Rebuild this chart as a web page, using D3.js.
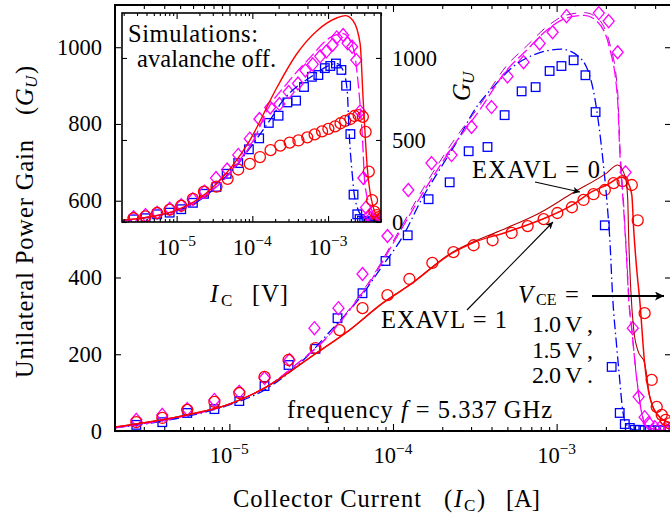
<!DOCTYPE html>
<html><head><meta charset="utf-8">
<script src="https://cdn.jsdelivr.net/npm/d3@7"></script>
<style>
body{margin:0;background:#fff}
svg{display:block}
text{font-family:"Liberation Serif","Times New Roman",serif;fill:#000}
</style>
</head><body>
<svg id="chart" width="670" height="516" font-family="Liberation Serif"></svg>
<script>
// ---------------- DATA ----------------
const yTicksMain = [0, 200, 400, 600, 800, 1000];
const yTicksInset = [0, 500, 1000];
const decadeTicks = [1e-5, 1e-4, 1e-3];
const decadeExps = ["\u22125", "\u22124", "\u22123"];

// measured markers
const measI_1V0 = [2.70e-6,3.89e-6,5.53e-6,8.10e-6,1.15e-5,1.64e-5,2.30e-5,3.36e-5,4.58e-5,6.51e-5,9.00e-5,1.23e-4,1.65e-4,2.22e-4,2.90e-4,3.78e-4,4.81e-4,6.11e-4,7.44e-4,9.06e-4,1.07e-3,1.27e-3,1.50e-3,1.73e-3,1.97e-3,2.17e-3,2.43e-3,2.61e-3,2.80e-3,3.00e-3,3.22e-3,3.45e-3,3.71e-3,3.98e-3,4.27e-3,4.58e-3,4.91e-3];
const measG_1V0 = [16,23,47,57,78,117,172,214,294,359,443,510,604,648,729,740,823,885,896,938,951,966,927,831,536,167,47,18,8,3,3,2,2,2,2,2,2];

const measI_1V5 = [2.70e-6,3.89e-6,5.53e-6,8.10e-6,1.15e-5,1.64e-5,2.33e-5,3.31e-5,4.64e-5,6.51e-5,9.25e-5,1.24e-4,1.72e-4,2.28e-4,3.02e-4,4.00e-4,5.01e-4,6.28e-4,7.87e-4,9.45e-4,1.15e-3,1.30e-3,1.58e-3,1.81e-3,2.08e-3,2.36e-3,2.64e-3,2.92e-3,3.17e-3,3.45e-3,3.65e-3,3.98e-3,4.27e-3,4.58e-3,4.91e-3];
const measG_1V5 = [29,42,57,81,102,138,185,268,320,409,508,628,698,719,792,844,924,961,1010,1039,1081,1125,1140,1089,1068,987,674,268,89,36,21,10,8,6,5];

const measI_2V0 = [2.70e-6,3.89e-6,5.53e-6,8.10e-6,1.15e-5,1.64e-5,2.30e-5,3.36e-5,4.71e-5,6.51e-5,9.25e-5,1.26e-4,1.74e-4,2.34e-4,3.11e-4,4.06e-4,5.31e-4,6.65e-4,8.33e-4,1.01e-3,1.24e-3,1.46e-3,1.68e-3,1.97e-3,2.23e-3,2.53e-3,2.88e-3,3.13e-3,3.45e-3,3.81e-3,4.09e-3,4.39e-3,4.64e-3,4.91e-3];
const measG_2V0 = [23,34,55,76,99,141,185,216,263,320,354,396,438,466,484,497,516,534,552,568,583,602,617,628,646,651,641,549,307,133,63,42,29,20];

// simulations, main plot
const simI_1V0 = [1.98e-6,4.94e-6,1e-5,1.64e-5,2.96e-5,4.09e-5,6.24e-5,8.51e-5,1.14e-4,1.52e-4,1.92e-4,2.55e-4,3.06e-4,4.30e-4,5.38e-4,7.13e-4,1.07e-3,1.38e-3,1.66e-3,1.88e-3,2.05e-3,2.11e-3,2.20e-3,2.33e-3,2.43e-3,2.53e-3,2.68e-3,3.00e-3,4.98e-3];
const simG_1V0 = [8,34,68,107,193,258,346,427,505,609,680,766,828,906,948,979,995,974,896,740,576,505,349,219,133,55,16,3,0];

const simI_1V5 = [1.98e-6,4.94e-6,1e-5,1.76e-5,2.68e-5,3.92e-5,5.42e-5,7.49e-5,1.07e-4,1.52e-4,2.31e-4,3.38e-4,4.95e-4,6.55e-4,8.69e-4,1.15e-3,1.48e-3,1.76e-3,2.11e-3,2.36e-3,2.43e-3,2.57e-3,2.68e-3,2.76e-3,2.88e-3,3.09e-3,3.31e-3,3.60e-3,4.98e-3];
const simG_1V5 = [8,36,70,120,180,242,315,398,510,620,740,836,940,992,1044,1076,1083,1068,997,862,732,576,445,341,263,133,47,10,0];
const simG_1V5_avl0 = [8,36,70,120,181,244,318,402,516,630,752,848,952,1003,1053,1084,1090,1077,1010,885,752,590,455,348,266,135,48,10,0];

const simI_2V0_avl1 = [1.98e-6,5.53e-6,1e-5,1.64e-5,3.40e-5,5.42e-5,8.63e-5,1.26e-4,2.31e-4,3.06e-4,4.95e-4,7.87e-4,1.25e-3,1.59e-3,2.02e-3,2.50e-3,2.72e-3,2.88e-3,2.96e-3,3.09e-3,3.22e-3,3.45e-3,3.71e-3,4.27e-3,4.98e-3];
const simG_2V0_avl1 = [10,42,70,112,203,263,333,380,464,490,518,549,589,620,641,661,648,615,523,419,341,177,89,36,21];

const simI_2V0_avl0 = [1.98e-6,5.53e-6,1e-5,1.64e-5,3.40e-5,5.42e-5,8.63e-5,1.26e-4,2.31e-4,3.06e-4,4.95e-4,7.87e-4,1.25e-3,2.02e-3,2.36e-3,2.64e-3,2.72e-3,2.76e-3,2.84e-3,2.96e-3,3.13e-3,3.45e-3,3.71e-3,4.27e-3,4.98e-3];
const simG_2V0_avl0 = [10,42,70,112,203,263,333,380,466,492,529,568,620,672,693,659,602,497,367,263,211,177,89,36,21];

// simulations, inset (avalanche off)
const offI_1V0 = [1.93e-6,4.94e-6,1e-5,1.64e-5,2.96e-5,4.09e-5,6.24e-5,8.51e-5,1.70e-4,2.54e-4,5.78e-4,1.32e-3,1.58e-3,1.79e-3,1.90e-3,2.08e-3,2.28e-3,2.91e-3,4.88e-3];
const offG_1V0 = [8,34,68,107,193,258,346,427,620,741,881,966,923,800,541,298,134,30,0];
const offI_1V5 = [1.93e-6,4.94e-6,1e-5,1.76e-5,2.68e-5,3.92e-5,5.42e-5,7.49e-5,1.07e-4,1.56e-4,2.86e-4,5.78e-4,1.06e-3,1.58e-3,2.14e-3,2.50e-3,2.82e-3,3.09e-3,3.94e-3,4.88e-3];
const offG_1V5 = [8,36,70,120,180,242,315,398,510,680,844,1002,1124,1148,1063,844,541,213,55,5];
const offI_2V0 = [1.93e-6,5e-6,1e-5,2.74e-5,9.27e-5,2.11e-4,3.89e-4,7.15e-4,1.32e-3,1.68e-3,2.14e-3,2.65e-3,2.91e-3,3.29e-3,3.94e-3,4.88e-3];
const offG_2V0 = [12,35,72,194,498,820,1027,1166,1245,1258,1227,1087,741,334,91,12];

// ---------------- DRAW ----------------
const svg = d3.select("#chart");
const BLUE = "#0000ff", MAG = "#ff00ff", PURP = "#b400c8", RED = "#ff0000", DRED = "#b00000";
const FS = "24.5px";

const M = {l:115, r:671, t:5, b:431};
const x = d3.scaleLog().domain([2e-6, 5e-3]).range([M.l, M.r]);
const y = d3.scaleLinear().domain([0, 1110]).range([M.b, M.t]);
const I = {l:122, r:381, t:13, b:222};
const xi = d3.scaleLog().domain([1.9e-6, 5e-3]).range([I.l, I.r]);
const yi = d3.scaleLinear().domain([0, 1274]).range([I.b, I.t]);

function logTickVals(dom){
  const out=[];
  for(let e=-6;e<=-2;e++) for(let m=1;m<10;m++){
    const v=+(m*Math.pow(10,e)).toPrecision(3);
    if(v>=dom[0]*0.999 && v<=dom[1]*1.001) out.push(v);
  }
  return out;
}

const defs = svg.append("defs");
defs.append("clipPath").attr("id","clipMain").append("rect")
  .attr("x",M.l).attr("y",M.t).attr("width",M.r-M.l).attr("height",M.b-M.t);
defs.append("clipPath").attr("id","clipInset").append("rect")
  .attr("x",I.l).attr("y",I.t).attr("width",I.r-I.l).attr("height",I.b-I.t);
defs.append("marker").attr("id","arrow").attr("viewBox","0 0 10 10")
  .attr("refX",10).attr("refY",5).attr("markerWidth",10).attr("markerHeight",7)
  .attr("markerUnits","userSpaceOnUse").attr("orient","auto")
  .append("path").attr("d","M0,0 L10,5 L0,10 L2.5,5 Z").attr("fill","#000");
defs.append("marker").attr("id","arrowBig").attr("viewBox","0 0 10 10")
  .attr("refX",10).attr("refY",5).attr("markerWidth",14).attr("markerHeight",9)
  .attr("markerUnits","userSpaceOnUse").attr("orient","auto")
  .append("path").attr("d","M0,0 L10,5 L0,10 L2.5,5 Z").attr("fill","#000");

function drawMarkers(g, xs, ys, X, Y, kind, color){
  const pts = xs.map((v,i)=>[X(v), Y(ys[i])]);
  const sel = g.append("g").attr("fill","none").attr("stroke",color).attr("stroke-width",1.3);
  if(kind==="square"){
    sel.selectAll("rect").data(pts).join("rect")
      .attr("x",d=>d[0]-4.3).attr("y",d=>d[1]-4.3).attr("width",8.6).attr("height",8.6);
  } else if(kind==="diamond"){
    sel.selectAll("path").data(pts).join("path")
      .attr("d",d=>`M${d[0]},${d[1]-6.5}L${d[0]+5.5},${d[1]}L${d[0]},${d[1]+6.5}L${d[0]-5.5},${d[1]}Z`);
  } else {
    sel.selectAll("circle").data(pts).join("circle")
      .attr("cx",d=>d[0]).attr("cy",d=>d[1]).attr("r",5.5);
  }
}
function drawLine(g, xs, ys, X, Y, color, width, dash, offset){
  const line = d3.line().x(d=>X(d[0])).y(d=>Y(d[1])).curve(d3.curveMonotoneX);
  g.append("path").datum(xs.map((v,i)=>[v,ys[i]]))
    .attr("d",line).attr("fill","none").attr("stroke",color)
    .attr("stroke-width",width).attr("stroke-dasharray",dash||null)
    .attr("stroke-dashoffset",offset||0);
}
function txt(parent, xx, yy, s, opts){
  opts = opts||{};
  const t = parent.append("text").attr("x",xx).attr("y",yy)
    .style("font-size",opts.size||FS).text(s);
  if(opts.italic) t.style("font-style","italic");
  if(opts.len){ t.attr("textLength",opts.len).attr("lengthAdjust","spacing"); }
  if(opts.anchor) t.attr("text-anchor",opts.anchor);
  return t;
}

// ---- main plot ----
const gMain = svg.append("g").attr("clip-path","url(#clipMain)");
drawMarkers(gMain, measI_1V0, measG_1V0, x, y, "square", BLUE);
drawMarkers(gMain, measI_1V5, measG_1V5, x, y, "diamond", MAG);
drawMarkers(gMain, measI_2V0, measG_2V0, x, y, "circle", RED);
drawLine(gMain, simI_1V0, simG_1V0, x, y, BLUE, 1.3, "10,3.5,1.5,3.5");
drawLine(gMain, simI_1V5, simG_1V5_avl0, x, y, PURP, 1.0, "10,8", 6);
drawLine(gMain, simI_1V5, simG_1V5, x, y, MAG, 1.3, "12,4");
drawLine(gMain, simI_2V0_avl0, simG_2V0_avl0, x, y, DRED, 1.1);
drawLine(gMain, simI_2V0_avl1, simG_2V0_avl1, x, y, RED, 1.5);

function styleAxis(g){ g.select(".domain").remove(); g.selectAll("line").attr("stroke","#000").attr("stroke-width",1.1); g.selectAll("text").remove(); }
const allX = logTickVals(x.domain());
const majX = allX.filter(v=>decadeTicks.includes(v));
const minX = allX.filter(v=>!decadeTicks.includes(v));
svg.append("g").attr("transform",`translate(0,${M.b})`).call(d3.axisBottom(x).tickValues(majX).tickSize(-7)).call(styleAxis);
svg.append("g").attr("transform",`translate(0,${M.b})`).call(d3.axisBottom(x).tickValues(minX).tickSize(-4)).call(styleAxis);
svg.append("g").attr("transform",`translate(0,${M.t})`).call(d3.axisTop(x).tickValues(majX).tickSize(-7)).call(styleAxis);
svg.append("g").attr("transform",`translate(0,${M.t})`).call(d3.axisTop(x).tickValues(minX).tickSize(-4)).call(styleAxis);
svg.append("g").attr("transform",`translate(${M.l},0)`).call(d3.axisLeft(y).tickValues(yTicksMain).tickSize(-6)).call(styleAxis);
svg.append("g").attr("transform",`translate(${M.r},0)`).call(d3.axisRight(y).tickValues(yTicksMain).tickSize(-6)).call(styleAxis);

svg.append("rect").attr("x",M.l).attr("y",M.t).attr("width",M.r-M.l).attr("height",M.b-M.t)
  .attr("fill","none").attr("stroke","#000").attr("stroke-width",2);

// main tick labels
svg.append("g").selectAll("text").data(yTicksMain).join("text")
  .attr("x",102).attr("y",d=>y(d)+7.5).attr("text-anchor","end")
  .style("font-size","22.5px").text(d=>d);
const xl = svg.append("g").selectAll("text").data(decadeTicks).join("text")
  .attr("x",d=>x(d)).attr("y",463).attr("text-anchor","middle").style("font-size","22.5px");
xl.append("tspan").text("10");
xl.append("tspan").attr("dy",-9).style("font-size","15.5px").text((d,i)=>decadeExps[i]);

// x axis title
txt(svg, 233, 507, "Collector Current", {len:188});
txt(svg, 444, 507, "(");
txt(svg, 454, 507, "I", {italic:true});
txt(svg, 464, 511, "C", {size:"17px"});
txt(svg, 477, 507, ")");
txt(svg, 506, 507, "[A]", {len:34});

// y axis title (rotated)
const gy = svg.append("g").attr("transform","translate(33,378) rotate(-90)");
txt(gy, 0, 0, "Unilateral Power Gain", {len:238});
txt(gy, 263, 0, "(");
txt(gy, 272, 0, "G", {italic:true});
txt(gy, 290, 4, "U", {italic:true, size:"17px"});
txt(gy, 304, 0, ")");

// annotations main
const fq = svg.append("text").attr("x",287).attr("y",418).style("font-size",FS)
  .attr("textLength",265).attr("lengthAdjust","spacing");
fq.append("tspan").text("frequency ");
fq.append("tspan").style("font-style","italic").text("f");
fq.append("tspan").text(" = 5.337\u2009GHz");

txt(svg, 472, 178, "EXAVL = 0", {len:128});
svg.append("line").attr("x1",535).attr("y1",182).attr("x2",580).attr("y2",192)
  .attr("stroke","#000").attr("stroke-width",1.1).attr("marker-end","url(#arrow)");
txt(svg, 381, 328, "EXAVL = 1", {len:126});
svg.append("line").attr("x1",467).attr("y1",310).attr("x2",553).attr("y2",222)
  .attr("stroke","#000").attr("stroke-width",1.1).attr("marker-end","url(#arrow)");

txt(svg, 518, 303, "V", {italic:true});
txt(svg, 536, 305, "CE", {size:"16px"});
txt(svg, 565, 303, "=");
svg.append("line").attr("x1",592).attr("y1",296).attr("x2",664).attr("y2",296)
  .attr("stroke","#000").attr("stroke-width",2.2).attr("marker-end","url(#arrowBig)");
const vlist = ["1.0\u2009V ,", "1.5\u2009V ,", "2.0\u2009V ."];
svg.append("g").selectAll("text").data(vlist).join("text")
  .attr("x",532).attr("y",(d,i)=>[332,358,383][i]).style("font-size","24px")
  .attr("textLength",61).attr("lengthAdjust","spacing").text(d=>d);

// ---- inset ----
svg.append("rect").attr("x",I.l).attr("y",I.t).attr("width",I.r-I.l).attr("height",I.b-I.t).attr("fill","#fff");
const gIn = svg.append("g").attr("clip-path","url(#clipInset)");
drawMarkers(gIn, measI_1V0, measG_1V0, xi, yi, "square", BLUE);
drawMarkers(gIn, measI_1V5, measG_1V5, xi, yi, "diamond", MAG);
drawMarkers(gIn, measI_2V0, measG_2V0, xi, yi, "circle", RED);
drawLine(gIn, offI_1V0, offG_1V0, xi, yi, BLUE, 1.3, "10,3.5,1.5,3.5");
drawLine(gIn, offI_1V5, offG_1V5, xi, yi, MAG, 1.3, "12,4");
drawLine(gIn, offI_2V0, offG_2V0, xi, yi, RED, 1.4);

const allXi = logTickVals(xi.domain());
const majXi = allXi.filter(v=>decadeTicks.includes(v));
const minXi = allXi.filter(v=>!decadeTicks.includes(v));
svg.append("g").attr("transform",`translate(0,${I.b})`).call(d3.axisBottom(xi).tickValues(majXi).tickSize(-6)).call(styleAxis);
svg.append("g").attr("transform",`translate(0,${I.b})`).call(d3.axisBottom(xi).tickValues(minXi).tickSize(-3)).call(styleAxis);
svg.append("g").attr("transform",`translate(0,${I.t})`).call(d3.axisTop(xi).tickValues(majXi).tickSize(-6)).call(styleAxis);
svg.append("g").attr("transform",`translate(0,${I.t})`).call(d3.axisTop(xi).tickValues(minXi).tickSize(-3)).call(styleAxis);
svg.append("g").attr("transform",`translate(${I.l},0)`).call(d3.axisLeft(yi).tickValues(yTicksInset).tickSize(-5)).call(styleAxis);
svg.append("g").attr("transform",`translate(${I.r},0)`).call(d3.axisRight(yi).tickValues(yTicksInset).tickSize(-5)).call(styleAxis);
svg.append("rect").attr("x",I.l).attr("y",I.t).attr("width",I.r-I.l).attr("height",I.b-I.t)
  .attr("fill","none").attr("stroke","#000").attr("stroke-width",1.6);

svg.append("g").selectAll("text").data(yTicksInset).join("text")
  .attr("x",392).attr("y",d=>yi(d)+8).style("font-size","22.5px").text(d=>d);
const xli = svg.append("g").selectAll("text").data(decadeTicks).join("text")
  .attr("x",d=>xi(d)).attr("y",255).attr("text-anchor","middle").style("font-size","22.5px");
xli.append("tspan").text("10");
xli.append("tspan").attr("dy",-9).style("font-size","15.5px").text((d,i)=>decadeExps[i]);

txt(svg, 128, 42, "Simulations:", {len:130});
txt(svg, 137, 67, "avalanche off.", {len:139});

txt(svg, 210, 302, "I", {italic:true});
txt(svg, 221, 306, "C", {size:"17px"});
txt(svg, 252, 302, "[V]", {len:36});

const gu = svg.append("g").attr("transform","translate(470,101) rotate(-90)");
txt(gu, 0, 0, "G", {italic:true});
txt(gu, 17, 4, "U", {italic:true, size:"17px"});
</script>
</body></html>
